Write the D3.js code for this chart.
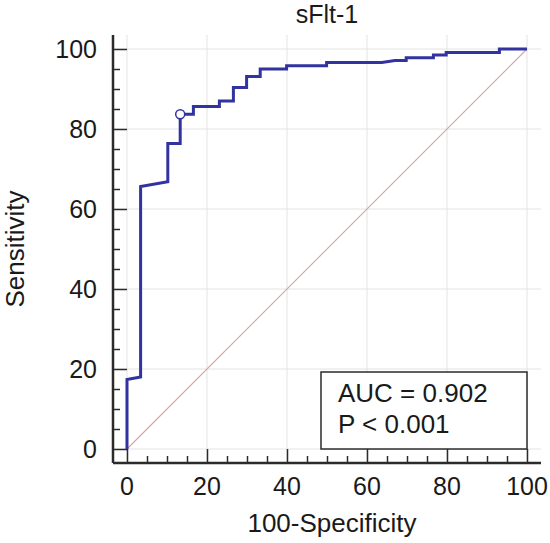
<!DOCTYPE html>
<html>
<head>
<meta charset="utf-8">
<script src="https://cdn.jsdelivr.net/npm/d3@7"></script>
<style>
  html, body { margin: 0; padding: 0; background: #fff; }
  svg { display: block; font-family: "Liberation Sans", Arial, sans-serif; }
</style>
</head>
<body>
<svg id="chart" width="550" height="543"></svg>
<script>
// ---- data ----
const title = "sFlt-1";
const xLabel = "100-Specificity";
const yLabel = "Sensitivity";
const fpr = [0, 0, 3.4, 3.4, 10.2, 10.2, 13.3, 13.3, 16.6, 16.6, 23.1, 23.1, 26.6, 26.6, 29.9, 29.9, 33.3, 33.3, 39.9, 39.9, 49.9, 49.9, 63.7, 67.0, 69.8, 69.8, 76.6, 76.6, 79.8, 79.8, 93.1, 93.1, 100];
const tpr = [0, 17.4, 18.0, 65.6, 66.8, 76.4, 76.4, 83.7, 83.7, 85.6, 85.6, 87.0, 87.0, 90.4, 90.4, 93.1, 93.1, 95.0, 95.0, 95.8, 95.8, 96.6, 96.6, 97.1, 97.1, 97.8, 97.8, 98.5, 98.5, 99.1, 99.1, 100, 100];
const cutoff = [13.3, 83.7];
const majorTicks = [0, 20, 40, 60, 80, 100];
const minorTicks = [5, 10, 15, 25, 30, 35, 45, 50, 55, 65, 70, 75, 85, 90, 95];
const legendLines = ["AUC = 0.902", "P < 0.001"];

// ---- layout ----
const svg = d3.select("#chart");
const x = d3.scaleLinear().domain([-3.5, 103.5]).range([113, 541]);
const y = d3.scaleLinear().domain([-3.5, 103.5]).range([463, 35]);
const fsTick = 25, fsTitle = 26;
const textColor = "#1a1a1a";

// gridlines
const grid = svg.append("g");
grid.selectAll(".gx").data(majorTicks).join("line")
  .attr("x1", d => x(d)).attr("x2", d => x(d))
  .attr("y1", y.range()[1]).attr("y2", y.range()[0])
  .attr("stroke", "#e3e3e3").attr("stroke-width", 1);
grid.selectAll(".gy").data(majorTicks).join("line")
  .attr("y1", d => y(d)).attr("y2", d => y(d))
  .attr("x1", x.range()[0]).attr("x2", x.range()[1])
  .attr("stroke", "#e3e3e3").attr("stroke-width", 1);

// diagonal reference line
svg.append("line")
  .attr("x1", x(0)).attr("y1", y(0)).attr("x2", x(100)).attr("y2", y(100))
  .attr("stroke", "#d3a3a3").attr("stroke-width", 1.1);

// axes
const axisColor = "#2b2b2b";
const xAxis = svg.append("g").attr("transform", `translate(0,${y(-3.5)})`)
  .call(d3.axisTop(x).tickValues(majorTicks).tickSize(14).tickFormat(""));
const xAxisMinor = svg.append("g").attr("transform", `translate(0,${y(-3.5)})`)
  .call(d3.axisTop(x).tickValues(minorTicks).tickSize(7).tickFormat(""));
const yAxis = svg.append("g").attr("transform", `translate(${x(-3.5)},0)`)
  .call(d3.axisRight(y).tickValues(majorTicks).tickSize(14).tickFormat(""));
const yAxisMinor = svg.append("g").attr("transform", `translate(${x(-3.5)},0)`)
  .call(d3.axisRight(y).tickValues(minorTicks).tickSize(7).tickFormat(""));
[xAxis, xAxisMinor, yAxis, yAxisMinor].forEach(g => {
  g.select(".domain").attr("stroke", axisColor).attr("stroke-width", 2.5);
  g.selectAll(".tick line").attr("stroke", axisColor).attr("stroke-width", 1.5);
});
[xAxisMinor, yAxisMinor].forEach(g => g.select(".domain").remove());
xAxis.select(".domain").attr("d", `M${x.range()[0]},0H${x.range()[1]}`);
yAxis.select(".domain").attr("d", `M0,${y.range()[0]}V${y.range()[1]}`);

// tick labels
svg.append("g").selectAll("text").data(majorTicks).join("text")
  .attr("x", d => x(d)).attr("y", 495)
  .attr("text-anchor", "middle").attr("font-size", fsTick).attr("fill", textColor)
  .text(d => d);
svg.append("g").selectAll("text").data(majorTicks).join("text")
  .attr("x", 97).attr("y", d => y(d) + 9)
  .attr("text-anchor", "end").attr("font-size", fsTick).attr("fill", textColor)
  .text(d => d);

// axis titles
svg.append("text").attr("x", 332).attr("y", 532)
  .attr("text-anchor", "middle").attr("font-size", fsTitle).attr("fill", textColor)
  .text(xLabel);
svg.append("text").attr("transform", `translate(24,249) rotate(-90)`)
  .attr("text-anchor", "middle").attr("font-size", fsTitle).attr("fill", textColor)
  .text(yLabel);
svg.append("text").attr("x", 327).attr("y", 23)
  .attr("text-anchor", "middle").attr("font-size", fsTick).attr("fill", textColor)
  .text(title);

// ROC curve
const pts = fpr.map((f, i) => [f, tpr[i]]);
svg.append("path").datum(pts)
  .attr("d", d3.line().x(d => x(d[0])).y(d => y(d[1])))
  .attr("fill", "none").attr("stroke", "#3333a0").attr("stroke-width", 3)
  .attr("stroke-linejoin", "miter");

// cutoff marker
svg.append("circle").attr("cx", x(cutoff[0])).attr("cy", y(cutoff[1])).attr("r", 4.5)
  .attr("fill", "#fff").attr("stroke", "#3333a0").attr("stroke-width", 1.5);

// legend box
const lg = svg.append("g");
lg.append("rect").attr("x", 321).attr("y", 372).attr("width", 206).attr("height", 77)
  .attr("fill", "#fff").attr("stroke", "#2b2b2b").attr("stroke-width", 1.5);
lg.selectAll("text").data(legendLines).join("text")
  .attr("x", 338).attr("y", (d, i) => 402 + i * 31)
  .attr("font-size", fsTitle).attr("fill", textColor)
  .text(d => d);
</script>
</body>
</html>
